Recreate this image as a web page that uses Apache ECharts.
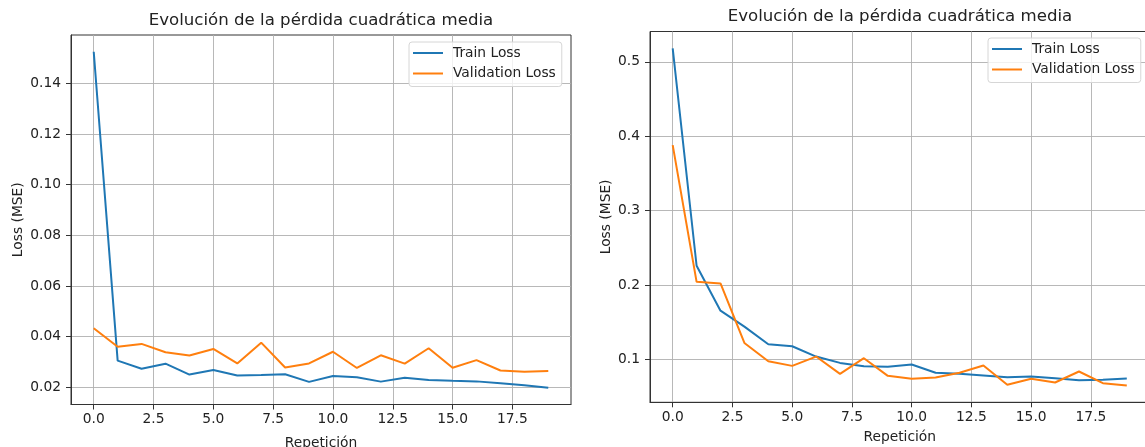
<!DOCTYPE html>
<html>
<head>
<meta charset="utf-8">
<script src="https://cdn.jsdelivr.net/npm/echarts@6/dist/echarts.min.js"></script>
<style>
html,body{margin:0;padding:0;background:#fff;}
#chart{width:1145px;height:447px;}
</style>
</head>
<body>
<div id="chart"></div>
<script>
// ---- data ----
const epochs = [0,1,2,3,4,5,6,7,8,9,10,11,12,13,14,15,16,17,18,19];
const trainLossA = [0.1525,0.0305,0.0273,0.0293,0.0250,0.0268,0.0246,0.0248,0.0251,0.0221,0.0244,0.0239,0.0222,0.0237,0.0228,0.0225,0.0223,0.0216,0.0208,0.0198];
const valLossA   = [0.0433,0.0360,0.0371,0.0338,0.0325,0.0351,0.0294,0.0376,0.0278,0.0294,0.0340,0.0276,0.0326,0.0293,0.0354,0.0277,0.0307,0.0266,0.0261,0.0264];
const trainLossB = [0.518,0.226,0.1656,0.1442,0.1205,0.1178,0.104,0.0955,0.091,0.0902,0.0933,0.0822,0.0808,0.0786,0.0763,0.0772,0.075,0.0723,0.0728,0.0746];
const valLossB   = [0.388,0.2044,0.2022,0.1223,0.0977,0.0915,0.104,0.0808,0.1018,0.0781,0.0741,0.0759,0.0822,0.092,0.0661,0.0741,0.0692,0.0839,0.0683,0.0652];
const xTicks  = [0,2.5,5,7.5,10,12.5,15,17.5];
const yTicksA = [0.02,0.04,0.06,0.08,0.10,0.12,0.14];
const yTicksB = [0.1,0.2,0.3,0.4,0.5];
const titleText = 'Evolución de la pérdida cuadrática media';
const xName = 'Repetición';
const yName = 'Loss (MSE)';
const names = ['Train Loss','Validation Loss'];

// ---- helpers ----
const FONT = 'DejaVu Sans';
const TXT = '#222';
const FS = 13.8;
function pairs(ys){ return epochs.map((e,i)=>[e, ys[i]]); }
function padRange(arrs){
  let lo=Infinity, hi=-Infinity;
  arrs.forEach(a=>a.forEach(v=>{lo=Math.min(lo,v);hi=Math.max(hi,v);}));
  const m=(hi-lo)*0.05; return [lo-m, hi+m];
}
const xr = [epochs[0]-(epochs[epochs.length-1]-epochs[0])*0.05, epochs[epochs.length-1]+(epochs[epochs.length-1]-epochs[0])*0.05];
const yrA = padRange([trainLossA,valLossA]);
const yrB = padRange([trainLossB,valLossB]);

function xAxis(gi, gap){
  return {
    type:'value', gridIndex:gi, min:xr[0], max:xr[1],
    name:xName, nameLocation:'middle', nameGap:gap,
    nameTextStyle:{fontFamily:FONT,fontSize:FS,color:TXT},
    axisLine:{show:true,onZero:false,lineStyle:{color:'#333',width:1}},
    axisTick:{show:true,length:5,lineStyle:{color:'#333',width:1},customValues:xTicks},
    axisLabel:{fontFamily:FONT,fontSize:FS,color:TXT,margin:8,customValues:xTicks,formatter:v=>v.toFixed(1)},
    splitLine:{show:true,lineStyle:{color:'#b0b0b0',width:0.9}}
  };
}
function yAxis(gi, r, ticks, dec, gap){
  return {
    type:'value', gridIndex:gi, min:r[0], max:r[1],
    name:yName, nameLocation:'middle', nameGap:gap, nameRotate:90,
    nameTextStyle:{fontFamily:FONT,fontSize:FS,color:TXT},
    axisLine:{show:true,onZero:false,lineStyle:{color:'#333',width:1}},
    axisTick:{show:true,length:5,lineStyle:{color:'#333',width:1},customValues:ticks},
    axisLabel:{fontFamily:FONT,fontSize:FS,color:TXT,margin:10,customValues:ticks,formatter:v=>v.toFixed(dec)},
    splitLine:{show:true,lineStyle:{color:'#b0b0b0',width:0.9}}
  };
}
function legend(left, top){
  return {
    orient:'vertical', left:left, top:top,
    data:names, icon:'rect', itemWidth:30, itemHeight:2, itemGap:4.5,
    padding:[3,6,5,4],
    borderColor:'#d6d6d6', borderWidth:1, borderRadius:3,
    backgroundColor:'rgba(255,255,255,0.8)',
    textStyle:{fontFamily:FONT,fontSize:FS,color:TXT,lineHeight:16,padding:[0,0,0,5]},
    selectedMode:false
  };
}
function line(name, xi, data, color){
  return {
    type:'line', name:name, xAxisIndex:xi, yAxisIndex:xi, data:data,
    showSymbol:false, symbol:'none', smooth:false, animation:false,
    lineStyle:{color:color,width:2}, itemStyle:{color:color}
  };
}

const chart = echarts.init(document.getElementById('chart'), null, {renderer:'canvas'});
chart.setOption({
  animation:false,
  backgroundColor:'#fff',
  title:[
    {text:titleText, left:321, top:12, textAlign:'center', padding:0,
     textStyle:{fontFamily:FONT,fontSize:16.6,fontWeight:'normal',color:TXT}},
    {text:titleText, left:900, top:8.5, textAlign:'center', padding:0,
     textStyle:{fontFamily:FONT,fontSize:16.6,fontWeight:'normal',color:TXT}}
  ],
  legend:[legend(409,42), legend(988,38)],
  grid:[
    {left:71, top:35, width:500, height:369.5, show:true, borderColor:'#333', borderWidth:1, backgroundColor:'transparent', containLabel:false, outerBoundsMode:'none'},
    {left:650, top:31.5, width:499.5, height:370.8, show:true, borderColor:'#333', borderWidth:1, backgroundColor:'transparent', containLabel:false, outerBoundsMode:'none'}
  ],
  xAxis:[xAxis(0,32), xAxis(1,28.5)],
  yAxis:[yAxis(0,yrA,yTicksA,2,46),yAxis(1,yrB,yTicksB,1,37)],
  series:[
    line(names[0],0,pairs(trainLossA),'#1f77b4'),
    line(names[1],0,pairs(valLossA),'#ff7f0e'),
    line(names[0],1,pairs(trainLossB),'#1f77b4'),
    line(names[1],1,pairs(valLossB),'#ff7f0e')
  ]
});
</script>
</body>
</html>
